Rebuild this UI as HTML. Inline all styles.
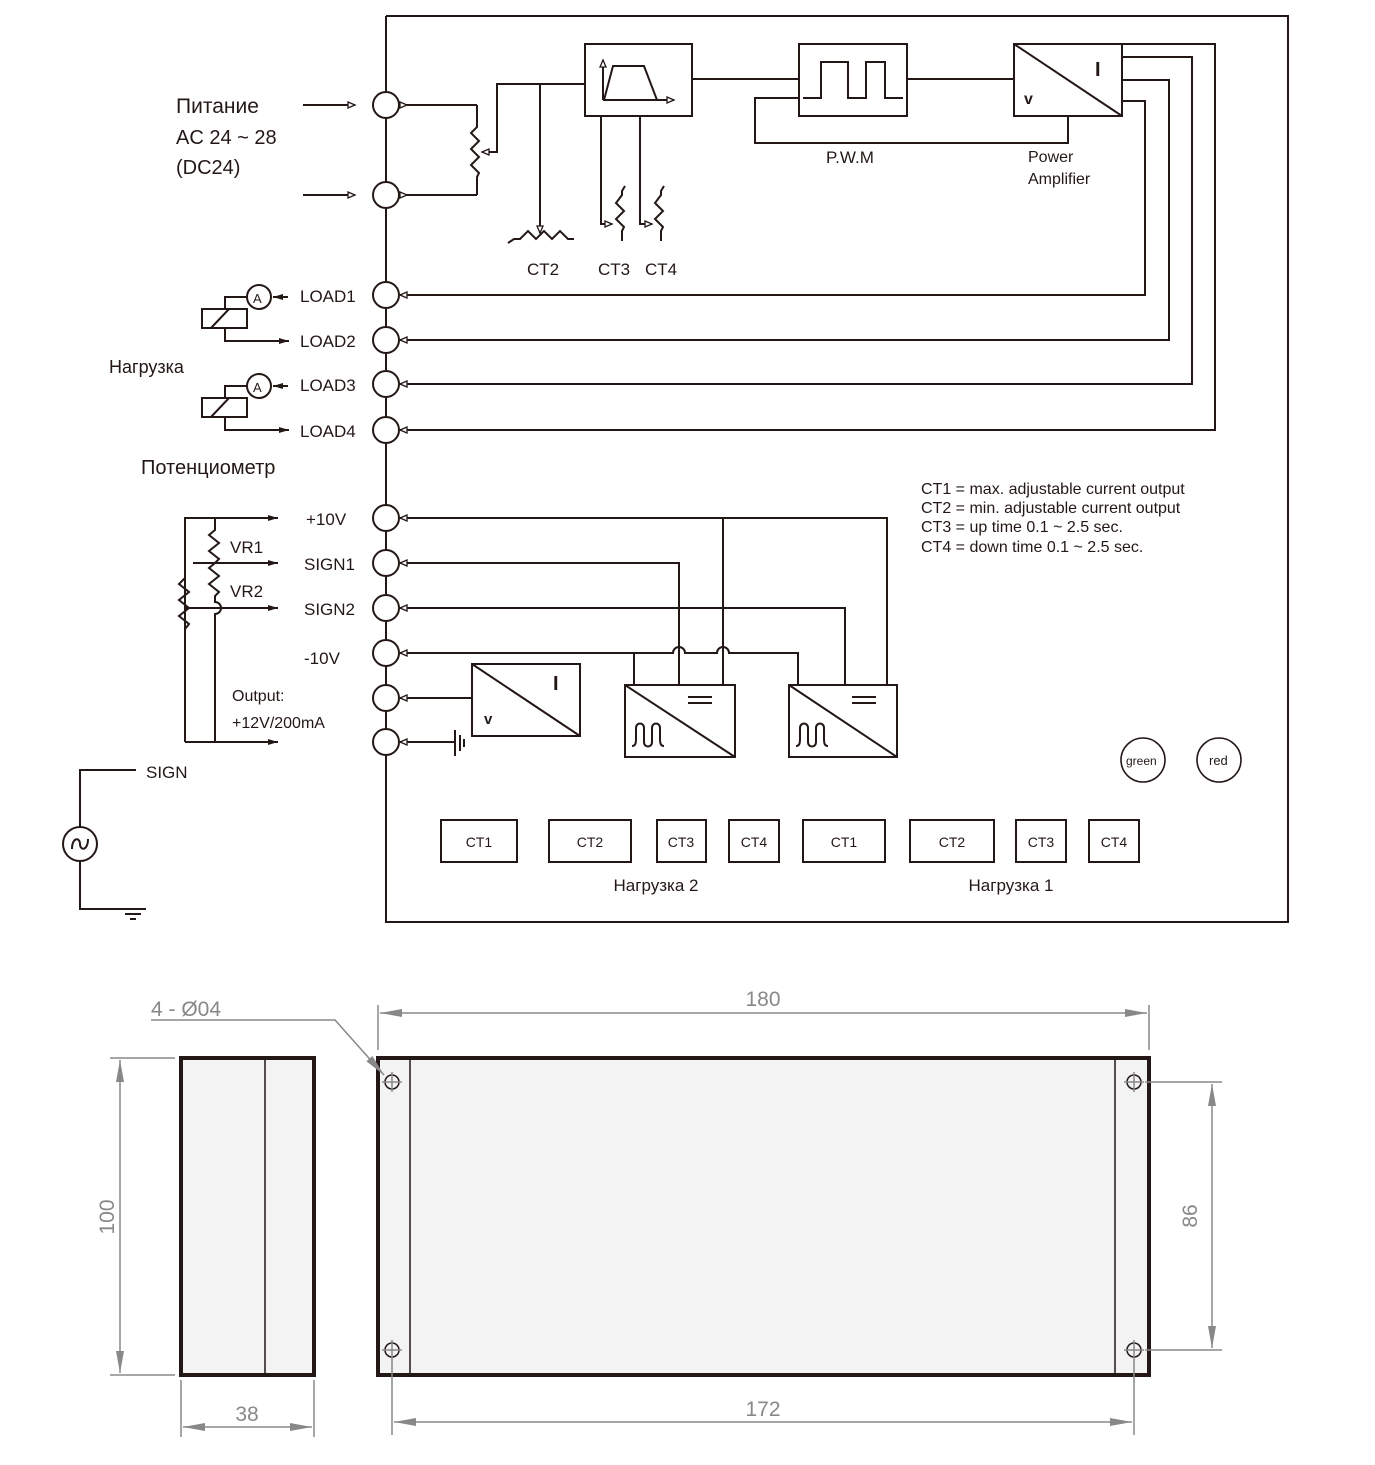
<!DOCTYPE html>
<html><head><meta charset="utf-8"><style>
html,body{margin:0;padding:0;background:#fff}
svg{display:block}
text{font-family:"Liberation Sans Narrow","Liberation Sans",sans-serif;fill:#231815}
.r{font-family:"Liberation Sans",sans-serif}
.g{fill:#888}
</style></head><body>
<svg width="1375" height="1465" viewBox="0 0 1375 1465" xmlns="http://www.w3.org/2000/svg">
<defs>
<marker id="a" markerWidth="10" markerHeight="10" refX="8" refY="4" orient="auto" markerUnits="userSpaceOnUse"><path d="M1,1 L8,4 L1,7 Z" fill="#fff" stroke="#231815" stroke-width="1.3"/></marker>
<marker id="s" markerWidth="10" markerHeight="10" refX="1" refY="4" orient="auto" markerUnits="userSpaceOnUse"><path d="M1,1 L8,4 L1,7 Z" fill="#fff" stroke="#231815" stroke-width="1.3"/></marker>
<marker id="f" markerWidth="12" markerHeight="10" refX="10" refY="4" orient="auto" markerUnits="userSpaceOnUse"><path d="M0,1 L10,4 L0,7 Z" fill="#231815"/></marker>
<marker id="d" markerWidth="24" markerHeight="12" refX="22" refY="6" orient="auto" markerUnits="userSpaceOnUse"><path d="M0,2 L22,6 L0,10 Z" fill="#888"/></marker>
</defs>
<g fill="none" stroke="#231815" stroke-width="2">
<path d="M386,16 H1288 V922 H386 V16"/>
<g fill="#fff">
<circle cx="386" cy="105" r="13"/><circle cx="386" cy="195" r="13"/>
<circle cx="386" cy="295" r="13"/><circle cx="386" cy="340" r="13"/>
<circle cx="386" cy="384" r="13"/><circle cx="386" cy="430" r="13"/>
<circle cx="386" cy="518" r="13"/><circle cx="386" cy="563" r="13"/>
<circle cx="386" cy="608" r="13"/><circle cx="386" cy="653" r="13"/>
<circle cx="386" cy="698" r="13"/><circle cx="386" cy="742" r="13"/>
</g>
<path d="M303,105 H355" marker-end="url(#a)"/>
<path d="M303,195 H355" marker-end="url(#a)"/>
<path d="M400,105 H477" marker-start="url(#s)"/>
<path d="M400,195 H477" marker-start="url(#s)"/>
<path d="M477,105 V127 l-6,6 l8,8 l-8,8 l8,8 l-8,8 l8,8 l-2,4 V195"/>
<path d="M585,84 H497 V152 H482" marker-end="url(#a)"/>
<path d="M540,84 V233" marker-end="url(#a)"/>
<path d="M508,243 l6,-4 l6,0 l8,-8 l8,8 l8,-8 l8,8 l8,-8 l8,8 l6,0"/>
<path d="M601,116 V224 H612" marker-end="url(#a)"/>
<path d="M625,186 l-3,5 v4 l-6,8 l8,8 l-8,8 l8,8 l-2,4 v10"/>
<path d="M640,116 V224 H652" marker-end="url(#a)"/>
<path d="M664,186 l-3,5 v4 l-6,8 l8,8 l-8,8 l8,8 l-2,4 v10"/>
<rect x="585" y="44" width="107" height="72"/>
<path d="M603,100 V60" marker-end="url(#a)"/>
<path d="M603,100 H674" marker-end="url(#a)"/>
<path d="M604,100 L613,66 H644 L657,100"/>
<path d="M692,79 H799"/>
<rect x="799" y="44" width="108" height="72"/>
<path d="M803,98 H821 V62 H848 V98 H866 V62 H885 V98 H903"/>
<path d="M799,98 H755 V143 H1068 V116"/>
<path d="M907,79 H1014"/>
<rect x="1014" y="44" width="108" height="72"/>
<path d="M1014,44 L1122,116"/>
<path d="M1122,44 H1215 V430 H400" marker-end="url(#a)"/>
<path d="M1122,57 H1192 V384 H400" marker-end="url(#a)"/>
<path d="M1122,80 H1169 V340 H400" marker-end="url(#a)"/>
<path d="M1122,101 H1145 V295 H400" marker-end="url(#a)"/>
<g>
<circle cx="259" cy="297" r="12" fill="#fff"/>
<path d="M288,297 H273" marker-end="url(#f)"/>
<path d="M247,297 H225 V309"/>
<rect x="202" y="309" width="45" height="19"/>
<path d="M211,328 L229,309"/>
<path d="M225,328 V341 H289" marker-end="url(#f)"/>
</g>
<g transform="translate(0,89)">
<circle cx="259" cy="297" r="12" fill="#fff"/>
<path d="M288,297 H273" marker-end="url(#f)"/>
<path d="M247,297 H225 V309"/>
<rect x="202" y="309" width="45" height="19"/>
<path d="M211,328 L229,309"/>
<path d="M225,328 V341 H289" marker-end="url(#f)"/>
</g>
<path d="M185,742 V518 H278" marker-end="url(#f)"/>
<path d="M185,742 H278" marker-end="url(#f)"/>
<path d="M185,578 l-6,6 l10,8 l-10,8 l10,8 l-10,8 l10,8 l-4,5"/>
<path d="M215,518 V530 l-6,5 l10,8 l-10,8 l10,8 l-4,4 l-6,5 l10,8 l-10,8 l10,8 l-4,4 V602 a6,6 0 0 1 0,12 V742"/>
<path d="M193,563 H278" marker-end="url(#f)"/>
<path d="M185,608 H278" marker-end="url(#f)"/>
<path d="M887,685 V518 H400" marker-end="url(#a)"/>
<path d="M679,685 V563 H400" marker-end="url(#a)"/>
<path d="M845,685 V608 H400" marker-end="url(#a)"/>
<path d="M723,685 V518"/>
<path d="M798,685 V653 H729 a6,6 0 0 0 -12,0 H685 a6,6 0 0 0 -12,0 H400" marker-end="url(#a)"/>
<path d="M634,685 V653"/>
<rect x="625" y="685" width="110" height="72"/><path d="M625,685 L735,757"/>
<path d="M688,697 H712 M688,703 H712"/>
<path d="M632,746 c4,0 4,-4 4,-8 v-10 c0,-6 8,-6 8,0 v14 c0,6 8,6 8,0 v-14 c0,-6 8,-6 8,0 v10 c0,4 0,8 4,8"/>
<rect x="789" y="685" width="108" height="72"/><path d="M789,685 L897,757"/>
<path d="M852,697 H876 M852,703 H876"/>
<path d="M796,746 c4,0 4,-4 4,-8 v-10 c0,-6 8,-6 8,0 v14 c0,6 8,6 8,0 v-14 c0,-6 8,-6 8,0 v10 c0,4 0,8 4,8"/>
<rect x="472" y="664" width="108" height="72"/><path d="M472,664 L580,736"/>
<path d="M472,698 H400" marker-end="url(#a)"/>
<path d="M455,742 H400" marker-end="url(#a)"/>
<path d="M455,730 V756 M460,735 V751 M464,739 V747"/>
<circle cx="80" cy="844" r="17"/>
<path d="M72,849 c0,-12 8,-12 8,-5 c0,7 8,7 8,-5"/>
<path d="M80,827 V770 H136"/>
<path d="M80,861 V909 H132"/>
<path d="M120,909 H146 M125,914 H141 M130,919 H136"/>
<rect x="441" y="820" width="76" height="42"/><rect x="549" y="820" width="82" height="42"/>
<rect x="657" y="820" width="49" height="42"/><rect x="729" y="820" width="50" height="42"/>
<rect x="803" y="820" width="82" height="42"/><rect x="910" y="820" width="84" height="42"/>
<rect x="1016" y="820" width="50" height="42"/><rect x="1089" y="820" width="50" height="42"/>
<circle cx="1143" cy="760" r="22" stroke-width="1.6"/><circle cx="1219" cy="760" r="22" stroke-width="1.6"/>
</g>
<text class="r" x="176" y="113" font-size="21">Питание</text>
<text x="176" y="144" font-size="20">AC 24 ~ 28</text>
<text x="176" y="174" font-size="20">(DC24)</text>
<text x="527" y="275" font-size="17">CT2</text>
<text x="598" y="275" font-size="17">CT3</text>
<text x="645" y="275" font-size="17">CT4</text>
<text x="826" y="163" font-size="17">P.W.M</text>
<text x="1028" y="162" font-size="16">Power</text>
<text x="1028" y="184" font-size="16">Amplifier</text>
<text x="1095" y="76" font-size="20" font-weight="bold">I</text>
<text x="1024" y="104" font-size="16" font-weight="bold">v</text>
<text x="253" y="303" font-size="13">A</text>
<text x="253" y="392" font-size="13">A</text>
<text x="300" y="302" font-size="17">LOAD1</text>
<text x="300" y="347" font-size="17">LOAD2</text>
<text x="300" y="391" font-size="17">LOAD3</text>
<text x="300" y="437" font-size="17">LOAD4</text>
<text class="r" x="109" y="373" font-size="18">Нагрузка</text>
<text class="r" x="141" y="474" font-size="20">Потенциометр</text>
<text x="306" y="525" font-size="17">+10V</text>
<text x="230" y="553" font-size="17">VR1</text>
<text x="230" y="597" font-size="17">VR2</text>
<text x="304" y="570" font-size="17">SIGN1</text>
<text x="304" y="615" font-size="17">SIGN2</text>
<text x="304" y="664" font-size="17">-10V</text>
<text x="232" y="701" font-size="16">Output:</text>
<text x="232" y="728" font-size="16">+12V/200mA</text>
<text x="146" y="778" font-size="17">SIGN</text>
<text x="553" y="690" font-size="20" font-weight="bold">I</text>
<text x="484" y="724" font-size="15" font-weight="bold">v</text>
<text x="921" y="494" font-size="16">CT1 = max. adjustable current output</text>
<text x="921" y="513" font-size="16">CT2 = min. adjustable current output</text>
<text x="921" y="532" font-size="16">CT3 = up time  0.1 ~ 2.5 sec.</text>
<text x="921" y="552" font-size="16">CT4 = down time 0.1 ~ 2.5 sec.</text>
<text x="1126" y="765" font-size="12">green</text>
<text x="1209" y="765" font-size="13">red</text>
<g font-size="14" text-anchor="middle">
<text x="479" y="847">CT1</text><text x="590" y="847">CT2</text><text x="681" y="847">CT3</text><text x="754" y="847">CT4</text>
<text x="844" y="847">CT1</text><text x="952" y="847">CT2</text><text x="1041" y="847">CT3</text><text x="1114" y="847">CT4</text>
</g>
<text class="r" x="656" y="891" font-size="17" text-anchor="middle">Нагрузка 2</text>
<text class="r" x="1011" y="891" font-size="17" text-anchor="middle">Нагрузка 1</text>
<g stroke="#231815" stroke-width="4" fill="#f3f3f3">
<rect x="181" y="1058" width="133" height="317"/>
<rect x="378" y="1058" width="771" height="317"/>
</g>
<g stroke="#231815" stroke-width="1.5" fill="none">
<path d="M265,1058 V1375 M410,1058 V1375 M1115,1058 V1375"/>
<circle cx="392" cy="1082" r="7"/><circle cx="1134" cy="1082" r="7"/>
<circle cx="392" cy="1350" r="7"/><circle cx="1134" cy="1350" r="7"/>
</g>
<g stroke="#888" stroke-width="1.5" fill="none">
<path d="M382,1082 H402 M392,1072 V1092 M1124,1082 H1144 M1134,1072 V1092 M382,1350 H402 M392,1340 V1360 M1124,1350 H1144 M1134,1340 V1360"/>
<path d="M110,1058 H175 M110,1375 H175"/>
<path d="M120,1217 V1060" marker-end="url(#d)"/>
<path d="M120,1217 V1373" marker-end="url(#d)"/>
<path d="M181,1380 V1437 M314,1380 V1437"/>
<path d="M247,1427 H183" marker-end="url(#d)"/>
<path d="M247,1427 H312" marker-end="url(#d)"/>
<path d="M378,1005 V1050 M1149,1005 V1050"/>
<path d="M763,1013 H380" marker-end="url(#d)"/>
<path d="M763,1013 H1147" marker-end="url(#d)"/>
<path d="M392,1360 V1435 M1134,1360 V1435"/>
<path d="M763,1422 H394" marker-end="url(#d)"/>
<path d="M763,1422 H1132" marker-end="url(#d)"/>
<path d="M1145,1082 H1222 M1145,1350 H1222"/>
<path d="M1212,1216 V1084" marker-end="url(#d)"/>
<path d="M1212,1216 V1348" marker-end="url(#d)"/>
<path d="M151,1020 H335 L384,1075" marker-end="url(#d)"/>
</g>
<text class="g" x="151" y="1016" font-size="21">4 - Ø04</text>
<text class="g" x="763" y="1006" font-size="21" text-anchor="middle">180</text>
<text class="g" x="763" y="1416" font-size="21" text-anchor="middle">172</text>
<text class="g" x="247" y="1421" font-size="21" text-anchor="middle">38</text>
<text class="g" font-size="21" text-anchor="middle" transform="translate(114,1217) rotate(-90)">100</text>
<text class="g" font-size="21" text-anchor="middle" transform="translate(1197,1216) rotate(-90)">86</text>
</svg>
</body></html>
